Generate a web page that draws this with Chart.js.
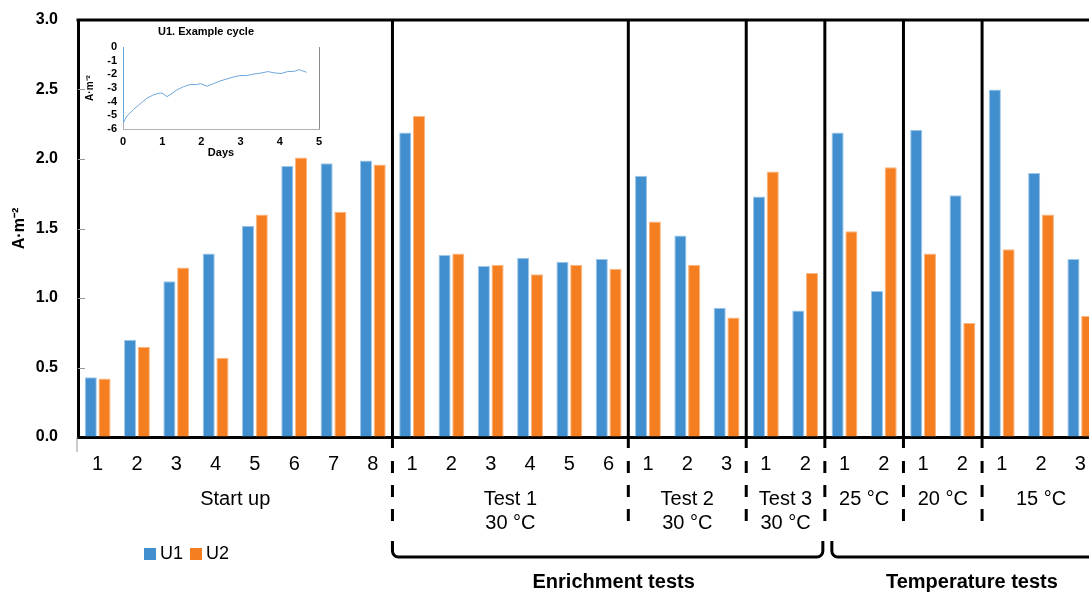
<!DOCTYPE html>
<html>
<head>
<meta charset="utf-8">
<script src="https://cdn.jsdelivr.net/npm/chart.js@4"></script>
<style>
  html, body { margin: 0; padding: 0; background: #fff; overflow: hidden; }
  #wrap { position: relative; width: 1120px; height: 592px; }
  #main { position: absolute; left: 0; top: 0; }
  #inset { position: absolute; left: 84px; top: 20px; }
</style>
</head>
<body>
<div id="wrap">
  <canvas id="main" width="1120" height="592"></canvas>
  <canvas id="inset" width="250" height="140"></canvas>
</div>
<script>
// categories (cycle numbers) and current densities A·m-2
const categories = ['1','2','3','4','5','6','7','8', '1','2','3','4','5','6', '1','2','3', '1','2', '1','2', '1','2', '1','2','3'];
const u1Values = [0.43,0.70,1.12,1.32,1.52,1.95,1.97,1.99, 2.19,1.31,1.23,1.29,1.26,1.28, 1.88,1.45,0.93, 1.73,0.91, 2.19,1.05, 2.21,1.74, 2.50,1.90,1.28];
const u2Values = [0.42,0.65,1.22,0.57,1.60,2.01,1.62,1.96, 2.31,1.32,1.24,1.17,1.24,1.21, 1.55,1.24,0.86, 1.91,1.18, 1.48,1.94, 1.32,0.82, 1.35,1.60,0.87];
const seriesNames = ['U1', 'U2'];
const yTicks = [0, 0.5, 1.0, 1.5, 2.0, 2.5, 3.0];

// groups along the x axis
const groupNames = [['Start up'], ['Test 1', '30 °C'], ['Test 2', '30 °C'], ['Test 3', '30 °C'], ['25 °C'], ['20 °C'], ['15 °C']];
const groupSizes = [8, 6, 3, 2, 2, 2, 3];
const sectionNames = ['Enrichment tests', 'Temperature tests'];
const sectionGroups = [[1, 3], [4, 6]];

// inset: U1 example cycle
const insetDays = [0, 0.01, 0.10, 0.27, 0.44, 0.61, 0.78, 0.95, 1.02, 1.12, 1.20, 1.37, 1.54, 1.71, 1.88, 1.98, 2.14, 2.31, 2.47, 2.64, 2.81, 2.98, 3.15, 3.32, 3.49, 3.70, 3.87, 4.03, 4.20, 4.37, 4.50, 4.68];
const insetCurrent = [0, -5.52, -5.05, -4.57, -4.15, -3.74, -3.50, -3.36, -3.41, -3.63, -3.50, -3.15, -2.91, -2.75, -2.75, -2.68, -2.87, -2.68, -2.49, -2.35, -2.20, -2.09, -2.09, -1.99, -1.92, -1.80, -1.90, -1.94, -1.80, -1.78, -1.66, -1.85];
const insetYTicks = [0, -1, -2, -3, -4, -5, -6];

const BLUE = '#418fcf', ORANGE = '#f57e20';
const FONT = '"Liberation Sans", Arial, sans-serif';

const decor = {
  id: 'decor',
  afterDraw(chart) {
    const { ctx, chartArea: a, scales: { x, y } } = chart;
    const step = x.getPixelForValue(1) - x.getPixelForValue(0);
    const edge = i => x.getPixelForValue(i) - step / 2;
    ctx.save();
    ctx.strokeStyle = '#000';
    ctx.lineWidth = 3;
    // top frame
    ctx.beginPath(); ctx.moveTo(a.left - 1.5, a.top); ctx.lineTo(a.right, a.top); ctx.stroke();

    // small inside ticks on y axis
    ctx.strokeStyle = '#999'; ctx.lineWidth = 1;
    yTicks.forEach(v => {
      if (v === 0 || v === 3) return;
      const py = Math.round(y.getPixelForValue(v)) + 0.5;
      ctx.beginPath(); ctx.moveTo(a.left, py); ctx.lineTo(a.left + 7, py); ctx.stroke();
    });
    ctx.beginPath(); ctx.moveTo(a.left - 1, a.bottom); ctx.lineTo(a.left - 1, a.bottom + 15); ctx.stroke();

    // group separators and labels
    const starts = [];
    let s = 0;
    groupSizes.forEach(n => { starts.push(s); s += n; });
    starts.forEach((st, g) => {
      if (g > 0) {
        const px = edge(st);
        ctx.strokeStyle = '#000'; ctx.lineWidth = 3;
        ctx.setLineDash([]);
        ctx.beginPath(); ctx.moveTo(px, a.top); ctx.lineTo(px, a.bottom + 11); ctx.stroke();
        ctx.setLineDash([12, 12]);
        ctx.beginPath(); ctx.moveTo(px, a.bottom + 24); ctx.lineTo(px, 526); ctx.stroke();
        ctx.setLineDash([]);
      }
      const cx = (edge(st) + edge(st + groupSizes[g])) / 2;
      ctx.fillStyle = '#000';
      ctx.font = '20px ' + FONT;
      ctx.textAlign = 'center';
      ctx.textBaseline = 'alphabetic';
      groupNames[g].forEach((t, k) => ctx.fillText(t, cx, 505 + k * 24));
    });

    // section brackets
    sectionGroups.forEach(([g0, g1], k) => {
      let xl = edge(starts[g0]), xr = edge(starts[g1] + groupSizes[g1]);
      if (k > 0) xl += 7; else xr -= 2;
      const yb = 557, yt = 541, r = 6;
      ctx.strokeStyle = '#000'; ctx.lineWidth = 3;
      ctx.beginPath();
      ctx.moveTo(xl, yt); ctx.lineTo(xl, yb - r);
      ctx.arcTo(xl, yb, xl + r, yb, r);
      ctx.lineTo(xr - r, yb);
      ctx.arcTo(xr, yb, xr, yb - r, r);
      ctx.lineTo(xr, yt);
      ctx.stroke();
      ctx.font = 'bold 20px ' + FONT;
      ctx.textAlign = 'center';
      ctx.fillText(sectionNames[k], (xl + xr) / 2 + 6, 588);
    });

    // legend
    ctx.font = '18px ' + FONT;
    ctx.textAlign = 'left';
    ctx.textBaseline = 'middle';
    let lx = 144;
    chart.data.datasets.forEach(ds => {
      ctx.fillStyle = ds.backgroundColor;
      ctx.fillRect(lx, 548, 12, 12);
      ctx.fillStyle = '#000';
      ctx.fillText(ds.label, lx + 16, 554);
      lx += 46;
    });
    ctx.restore();
  }
};

new Chart(document.getElementById('main'), {
  type: 'bar',
  data: {
    labels: categories,
    datasets: [
      { label: seriesNames[0], data: u1Values, backgroundColor: BLUE, borderColor: '#9ec8ea', borderWidth: 1 },
      { label: seriesNames[1], data: u2Values, backgroundColor: ORANGE, borderColor: '#f9b782', borderWidth: 1 }
    ]
  },
  options: {
    responsive: false,
    animation: false,
    layout: { padding: { top: 20, right: 20, left: 0, bottom: 0 } },
    datasets: { bar: { categoryPercentage: 0.7, barPercentage: 0.88 } },
    plugins: { legend: { display: false }, tooltip: { enabled: false } },
    scales: {
      x: {
        afterFit: sc => { sc.height = 155; sc.paddingLeft = 0; sc.paddingRight = 0; },
        grid: { drawOnChartArea: false, drawTicks: false },
        border: { color: '#000', width: 3 },
        ticks: { color: '#000', font: { family: FONT, size: 20 }, padding: 15, autoSkip: false, maxRotation: 0 }
      },
      y: {
        min: 0, max: 3,
        afterFit: sc => { sc.width = 78; sc.paddingTop = 0; sc.paddingBottom = 0; },
        afterBuildTicks: sc => { sc.ticks = yTicks.map(v => ({ value: v })); },
        grid: { drawOnChartArea: false, drawTicks: false },
        border: { color: '#000', width: 3 },
        ticks: { color: '#000', font: { family: FONT, size: 16, weight: 'bold' }, padding: 20, callback: v => v.toFixed(1) },
        title: { display: true, text: 'A·m⁻²', color: '#000', font: { family: FONT, size: 16, weight: 'bold' }, padding: { top: 10, bottom: 0 } }
      }
    }
  },
  plugins: [decor]
});

const insetDecor = {
  id: 'insetDecor',
  afterDraw(chart) {
    const { ctx, chartArea: a } = chart;
    ctx.save();
    ctx.strokeStyle = '#8c8c8c'; ctx.lineWidth = 1;
    ctx.beginPath(); ctx.moveTo(a.right + 0.5, a.top); ctx.lineTo(a.right + 0.5, a.bottom); ctx.stroke();
    ctx.fillStyle = '#000';
    ctx.font = 'bold 11px ' + FONT;
    ctx.textAlign = 'center'; ctx.textBaseline = 'middle';
    ctx.fillText('U1. Example cycle', 122, 12);
    ctx.restore();
  }
};

new Chart(document.getElementById('inset'), {
  type: 'line',
  data: {
    datasets: [{
      data: insetDays.map((d, i) => ({ x: d, y: insetCurrent[i] })),
      borderColor: '#6fa6dc', borderWidth: 1, pointRadius: 0, tension: 0
    }]
  },
  options: {
    responsive: false,
    animation: false,
    layout: { padding: { top: 27, right: 15, left: 0, bottom: 0 } },
    plugins: { legend: { display: false }, tooltip: { enabled: false } },
    scales: {
      x: {
        type: 'linear', min: 0, max: 5,
        afterFit: sc => { sc.height = 31; },
        grid: { drawOnChartArea: false, drawTicks: false },
        border: { color: '#b0b0b0' },
        ticks: { stepSize: 1, color: '#000', font: { family: FONT, size: 11, weight: 'bold' }, padding: 6 },
        title: { display: true, text: 'Days', color: '#000', font: { family: FONT, size: 11, weight: 'bold' }, padding: 0 }
      },
      y: {
        min: -6, max: 0,
        afterFit: sc => { sc.width = 39; sc.paddingTop = 0; sc.paddingBottom = 0; },
        afterBuildTicks: sc => { sc.ticks = insetYTicks.map(v => ({ value: v })); },
        grid: { drawOnChartArea: false, drawTicks: false },
        border: { color: '#b0b0b0' },
        ticks: { autoSkip: false, color: '#000', font: { family: FONT, size: 11, weight: 'bold' }, padding: 6 },
        title: { display: true, text: 'A·m⁻²', color: '#000', font: { family: FONT, size: 10, weight: 'bold' }, padding: 0 }
      }
    }
  },
  plugins: [insetDecor]
});
</script>
</body>
</html>
